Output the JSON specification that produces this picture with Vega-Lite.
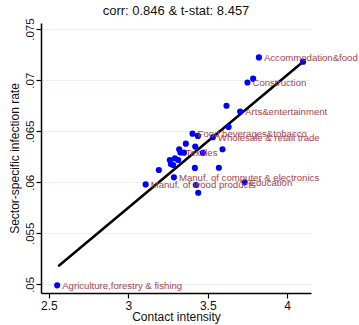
{
  "$schema": "https://vega.github.io/schema/vega-lite/v6.json",
  "autosize": {"type": "none"},
  "padding": {"left": 41, "top": 23, "right": 48, "bottom": 32},
  "width": 270,
  "height": 270,
  "background": "white",
  "title": {"text": "corr: 0.846 & t-stat: 8.457", "font": "Liberation Sans", "fontSize": 13, "fontWeight": "normal", "color": "#111", "offset": 0, "anchor": "middle", "frame": "group"},
  "config": {"view": {"stroke": null}},
  "datasets": {
    "pts": [
      {"x": 2.552, "y": 0.0499, "label": "Agriculture,forestry & fishing"},
      {"x": 3.822, "y": 0.07223, "label": "Accommodation&food"},
      {"x": 4.100, "y": 0.07181, "label": ""},
      {"x": 3.750, "y": 0.06977, "label": "Construction"},
      {"x": 3.786, "y": 0.07015, "label": ""},
      {"x": 3.618, "y": 0.06749, "label": ""},
      {"x": 3.704, "y": 0.06693, "label": "Arts&entertainment"},
      {"x": 3.631, "y": 0.06542, "label": ""},
      {"x": 3.404, "y": 0.06476, "label": "Food beverages&tobacco"},
      {"x": 3.438, "y": 0.06454, "label": ""},
      {"x": 3.532, "y": 0.06441, "label": "Wholesale & retail trade"},
      {"x": 3.362, "y": 0.06378, "label": ""},
      {"x": 3.421, "y": 0.06349, "label": ""},
      {"x": 3.593, "y": 0.06323, "label": ""},
      {"x": 3.320, "y": 0.06323, "label": ""},
      {"x": 3.328, "y": 0.06291, "label": "Textiles"},
      {"x": 3.350, "y": 0.06290, "label": ""},
      {"x": 3.469, "y": 0.06287, "label": ""},
      {"x": 3.261, "y": 0.06218, "label": ""},
      {"x": 3.293, "y": 0.06235, "label": ""},
      {"x": 3.314, "y": 0.06218, "label": ""},
      {"x": 3.268, "y": 0.06179, "label": ""},
      {"x": 3.282, "y": 0.06169, "label": ""},
      {"x": 3.192, "y": 0.06120, "label": ""},
      {"x": 3.419, "y": 0.06140, "label": ""},
      {"x": 3.570, "y": 0.06142, "label": ""},
      {"x": 3.287, "y": 0.06048, "label": "Manuf. of computer & electronics"},
      {"x": 3.109, "y": 0.05979, "label": "Manuf. of wood products"},
      {"x": 3.425, "y": 0.05973, "label": ""},
      {"x": 3.440, "y": 0.05897, "label": ""},
      {"x": 3.732, "y": 0.05999, "label": "Education"}
    ],
    "fit": [
      {"x": 2.5585, "y": 0.05177},
      {"x": 4.100, "y": 0.07181}
    ]
  },
  "encoding": {
    "x": {"field": "x", "type": "quantitative", "title": "Contact intensity",
      "scale": {"domain": [2.45, 4.15], "nice": false, "zero": false},
      "axis": {"values": [2.5, 3, 3.5, 4], "format": "~g", "grid": false, "labelFlush": false, "domainColor": "black", "domainWidth": 1.5, "tickColor": "black", "tickWidth": 1.2, "tickSize": 5, "labelFont": "Liberation Sans", "labelFontSize": 12, "labelColor": "#111", "labelPadding": 2.5, "titleFont": "Liberation Sans", "titleFontSize": 12, "titleFontWeight": "normal", "titleColor": "#111", "titlePadding": 0}},
    "y": {"field": "y", "type": "quantitative", "title": "Sector-specific infection rate",
      "scale": {"domain": [0.04915, 0.0756], "nice": false, "zero": false},
      "axis": {"values": [0.05, 0.055, 0.06, 0.065, 0.07, 0.075], "labelExpr": "substring(format(datum.value, '.3~f'), 1)", "labelAngle": 270, "labelAlign": "center", "labelBaseline": "alphabetic", "labelFlush": false, "grid": true, "gridColor": "#e8f0f1", "gridWidth": 1, "domainColor": "black", "domainWidth": 1.5, "tickColor": "black", "tickWidth": 1.2, "tickSize": 5, "labelFont": "Liberation Sans", "labelFontSize": 11.5, "labelColor": "#111", "labelPadding": 2.5, "titleFont": "Liberation Sans", "titleFontSize": 12, "titleFontWeight": "normal", "titleColor": "#111", "titlePadding": 3}}
  },
  "layer": [
    {
      "data": {"name": "fit"},
      "mark": {"type": "line", "color": "black", "strokeWidth": 2.5}
    },
    {
      "data": {"name": "pts"},
      "mark": {"type": "circle", "color": "#0000ff", "opacity": 1, "size": 38}
    },
    {
      "data": {"name": "pts"},
      "mark": {"type": "text", "align": "left", "baseline": "middle", "dx": 5, "dy": 0.5, "font": "Liberation Sans", "fontSize": 9.6, "color": "#a0454c", "clip": false},
      "encoding": {"text": {"field": "label"}}
    }
  ]
}
